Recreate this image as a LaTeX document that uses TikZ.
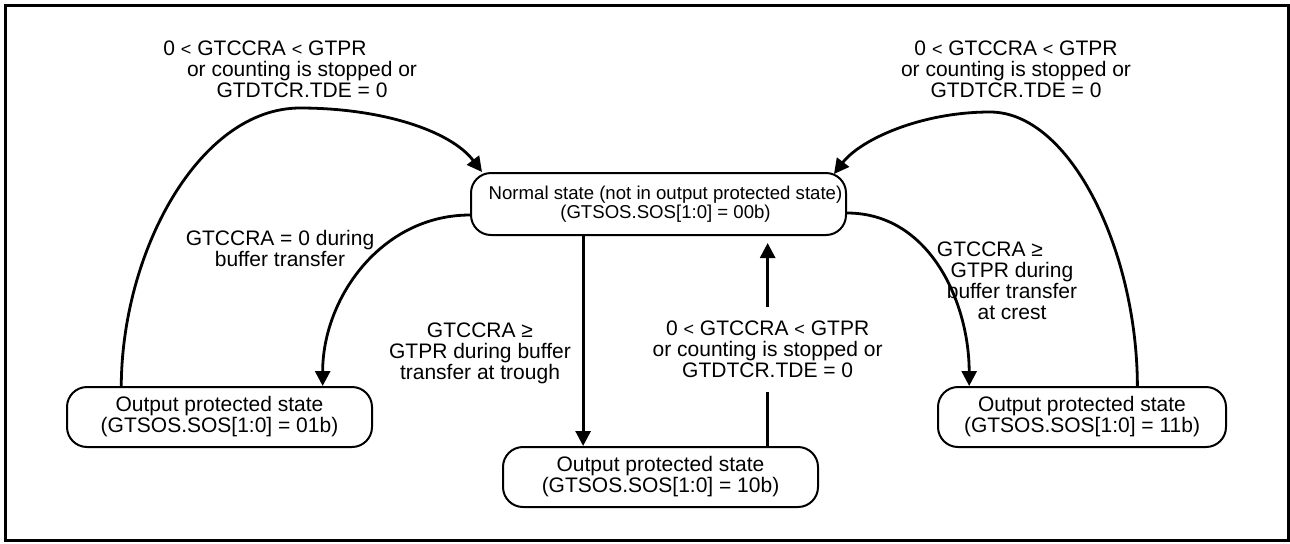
\documentclass[tikz,border=0pt]{standalone}
\usepackage{fontspec}
\setmainfont{Liberation Sans}
\usetikzlibrary{arrows.meta, positioning, calc}

\newcommand{\lessthan}{{\fontsize{9}{9}\selectfont <}}

\begin{document}
\begin{tikzpicture}[x=0.5pt, y=-0.5pt,
    statebox/.style={draw, line width=1pt, rounded corners=10pt, inner sep=0pt, align=center,
                     font=\fontsize{10.5}{10.5}\selectfont, minimum height=30pt},
    conn/.style={line width=1.4pt, -{Triangle[length=7.5pt, width=7.5pt]}},
    cond/.style={align=center, font=\fontsize{10.5}{10.5}\selectfont, inner sep=1pt}]
    \useasboundingbox (0,0) rectangle (1290,543);
    \draw[line width=1.5pt] (5.5,5.5) rectangle (1288,540);
    % states
    \node[statebox, minimum width=187.5pt, minimum height=31pt, font=\fontsize{9.3}{9.3}\selectfont] (normal) at (658.5,204)
        {\hspace*{7pt}Normal state (not in output protected state)\\\hspace*{7pt}(GTSOS.SOS[1:0] = 00b)};
    \node[statebox, minimum width=152.5pt] (prot01) at (219.5,417) {Output protected state\\(GTSOS.SOS[1:0] = 01b)};
    \node[statebox, minimum width=157.5pt] (prot10) at (660.5,477) {Output protected state\\(GTSOS.SOS[1:0] = 10b)};
    \node[statebox, minimum width=144pt] (prot11) at (1082,417) {Output protected state\\(GTSOS.SOS[1:0] = 11b)};
    % leaving the normal state
    \draw[conn] ($(normal.west)+(0,11)$) to[out=180, in=90] ($(prot01.north west)!.836!(prot01.north east)$);
    \draw[conn] ($(normal.east)+(0,9)$) to[out=0, in=90] ($(prot11.north west)!.111!(prot11.north east)$);
    \draw[conn] ($(normal.south west)!.3!(normal.south east)$) coordinate (trough) -- (trough |- prot10.north);
    % back to the normal state
    \draw[conn, shorten >=3.5pt] ($(prot10.north west)!.838!(prot10.north east)$) coordinate (back)
        -- node[cond, pos=.46, fill=white, inner ysep=7pt] {0 \lessthan{} GTCCRA \lessthan{} GTPR\\or counting is stopped or\\GTDTCR.TDE = 0} (back |- normal.south);
    \draw[conn] ($(prot01.north west)!.18!(prot01.north east)$) .. controls (122,250) and (200,108) .. (300,108)
        .. controls (380,108) and (450,130) .. ($(normal.north west)+(12,0)$);
    \draw[conn] ($(prot11.north west)!.691!(prot11.north east)$) .. controls (1137,250) and (1070,112) .. (990,112)
        .. controls (920,112) and (860,140) .. ($(normal.north east)+(-13,2)$);
    % conditions
    \node[cond] (stopL) at (302,69) {0 \lessthan{} GTCCRA \lessthan{} GTPR\hspace*{37pt}\\or counting is stopped or\\GTDTCR.TDE = 0};
    \node[cond] (stopR) at (1016,69) {0 \lessthan{} GTCCRA \lessthan{} GTPR\\or counting is stopped or\\GTDTCR.TDE = 0};
    \node[cond] (zero) at (280,248) {GTCCRA = 0 during\\buffer transfer};
    \node[cond] (atTrough) at (480,353) {GTCCRA ≥\\GTPR during buffer\\transfer at trough};
    \node[cond] (atCrest) at (1012,281) {GTCCRA ≥\hspace*{22pt}\\GTPR during\\buffer transfer\\at crest};
\end{tikzpicture}
\end{document}
